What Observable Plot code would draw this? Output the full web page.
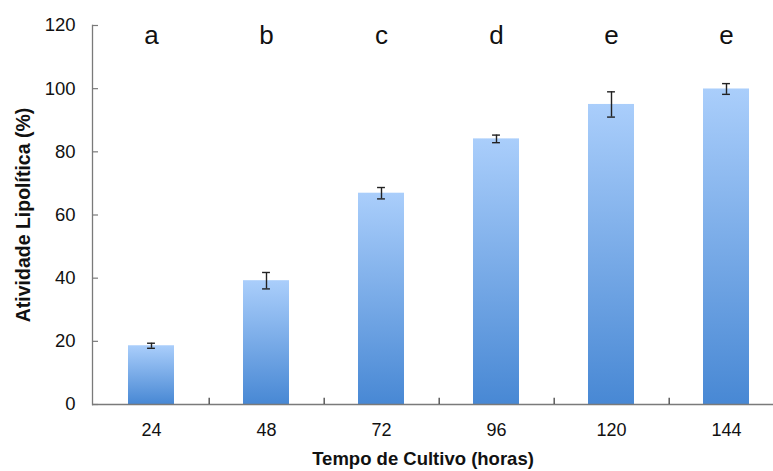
<!DOCTYPE html>
<html><head><meta charset="utf-8">
<script src="https://cdn.jsdelivr.net/npm/d3@7"></script>
<script src="https://cdn.jsdelivr.net/npm/@observablehq/plot@0.6"></script>
<style>body{margin:0;background:#fff}</style>
</head><body><div id="chart"></div>
<script>
const hours = ["24", "48", "72", "96", "120", "144"];
const activity = [18.6, 39.2, 66.9, 84.1, 95.0, 99.9];
const errors = [0.8, 2.6, 1.8, 1.2, 4.0, 1.7];
const letters = ["a", "b", "c", "d", "e", "e"];
const yTicks = [0, 20, 40, 60, 80, 100, 120];

const data = hours.map((h, i) => ({h, v: activity[i], e: errors[i], l: letters[i]}));

const W = 773, H = 471, ML = 92, MT = 25, MB = 67;
const xRange = [92, 784];
const step = (xRange[1] - xRange[0]) / hours.length;
const bw = step * 0.4;
const capInset = (bw - 8) / 2;
const axisColor = "#7a7a7a";

const chart = Plot.plot({
  width: W, height: H,
  marginLeft: ML, marginRight: 0, marginTop: MT, marginBottom: MB,
  style: {fontFamily: "'Liberation Sans', Arial, sans-serif", background: "white", color: "#111"},
  x: {domain: hours, range: xRange, paddingInner: 0.6, paddingOuter: 0.3, label: null},
  y: {domain: [0, 120], label: null},
  marks: [
    Plot.barY(data, {x: "h", y: "v", fill: "url(#barGrad)"}),
    Plot.ruleX(data, {x: "h", y1: d => d.v - d.e, y2: d => d.v + d.e, stroke: "#222", strokeWidth: 1.4}),
    Plot.tickY(data, {x: "h", y: d => d.v - d.e, stroke: "#222", strokeWidth: 1.4, insetLeft: capInset, insetRight: capInset}),
    Plot.tickY(data, {x: "h", y: d => d.v + d.e, stroke: "#222", strokeWidth: 1.4, insetLeft: capInset, insetRight: capInset}),
    Plot.text(data, {x: "h", y: 114, text: "l", fontSize: 26, lineAnchor: "bottom", fill: "#111"}),
    Plot.frame({anchor: "left", stroke: axisColor, strokeWidth: 1.3}),
    Plot.ruleY([0], {stroke: axisColor, strokeWidth: 1.3}),
    Plot.tickY(yTicks, {y: d => d, stroke: axisColor, strokeWidth: 1.2, insetRight: W - ML - 6}),
    Plot.ruleX(hours.slice(0, 5), {x: d => d, dx: step / 2, y1: 0, y2: 2, stroke: "#333", strokeWidth: 1.2}),
    Plot.axisY({ticks: yTicks, tickSize: 0, tickPadding: 17, fontSize: 18.5, fill: "#111"}),
    Plot.axisX({tickSize: 0, tickPadding: 19, fontSize: 18, fill: "#111"}),
    Plot.text(["Tempo de Cultivo (horas)"], {frameAnchor: "bottom", dx: -10, dy: 60, text: d => d, fontSize: 18.5, fontWeight: "bold", lineAnchor: "bottom", fill: "#111"}),
    Plot.text(["Atividade Lipolítica (%)"], {frameAnchor: "left", textAnchor: "middle", dx: -69, text: d => d, rotate: -90, fontSize: 19.5, fontWeight: "bold", fill: "#111"})
  ]
});

const svgNS = "http://www.w3.org/2000/svg";
const defs = document.createElementNS(svgNS, "defs");
const grad = document.createElementNS(svgNS, "linearGradient");
grad.setAttribute("id", "barGrad");
grad.setAttribute("x1", "0"); grad.setAttribute("y1", "0");
grad.setAttribute("x2", "0"); grad.setAttribute("y2", "1");
[["0%", "#aacefb"], ["100%", "#4888d4"]].forEach(([o, c]) => {
  const s = document.createElementNS(svgNS, "stop");
  s.setAttribute("offset", o); s.setAttribute("stop-color", c);
  grad.appendChild(s);
});
defs.appendChild(grad);
chart.insertBefore(defs, chart.firstChild);
document.getElementById("chart").appendChild(chart);
</script>
</body></html>
